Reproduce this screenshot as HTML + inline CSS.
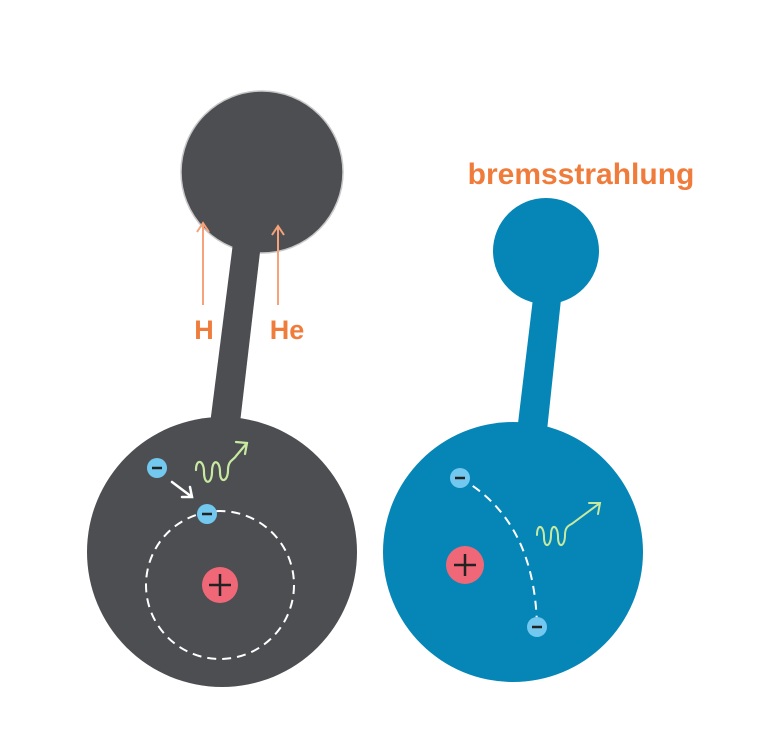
<!DOCTYPE html>
<html><head><meta charset="utf-8"><style>
html,body{margin:0;padding:0;background:#fff;}
svg{display:block;}
text{font-family:"Liberation Sans",sans-serif;}
</style></head><body>
<svg width="777" height="736" viewBox="0 0 777 736">
  <g>
    <circle cx="262" cy="172" r="81" fill="#4d4e52" stroke="#c8c8c8" stroke-width="1.5"/>
    <polygon points="208,440 238,440 262,235 234,235" fill="#4d4e52"/>
    <circle cx="222" cy="552" r="135" fill="#4d4e52"/>
    <circle cx="220" cy="585" r="74" fill="none" stroke="#fff" stroke-width="2" stroke-dasharray="9,6"/>
    <circle cx="220" cy="585" r="18" fill="#f06877"/>
    <path d="M209,585 h22 M220,574 v22" stroke="#222" stroke-width="2.5"/>
    <path d="M172,482 L192,497 M182,497 L192,497 L190,487" stroke="#fff" stroke-width="2.5" fill="none" stroke-linecap="round"/>
    <path d="M196,470 c0,-12 8,-10 8,2 c0,14 8,12 8,0 c0,-14 8,-12 8,0 c0,12 8,10 8,-2 c0,-10 6,-10 8,-14 L247,443 M236,442 L247,443 L245,454" stroke="#c8eaa0" stroke-width="2.2" fill="none" stroke-linecap="round"/>
    <circle cx="157" cy="468" r="10" fill="#72c8ee"/>
    <path d="M152,468 h10" stroke="#222" stroke-width="2.5"/>
    <circle cx="207" cy="514" r="10" fill="#72c8ee"/>
    <path d="M202,514 h10" stroke="#222" stroke-width="2.5"/>
    <path d="M203,305 V223 M197,232 L203,223 L209,232" stroke="#f6a27a" stroke-width="2" fill="none"/>
    <path d="M278,305 V226 M272,235 L278,226 L284,235" stroke="#f6a27a" stroke-width="2" fill="none"/>
    <text x="204" y="339" text-anchor="middle" font-size="27" font-weight="bold" fill="#f07c3c">H</text>
    <text x="287" y="339" text-anchor="middle" font-size="27" font-weight="bold" fill="#f07c3c">He</text>
  </g>
  <g>
    <circle cx="546" cy="251" r="53" fill="#0586b7"/>
    <polygon points="516,440 546,440 562,290 534,290" fill="#0586b7"/>
    <circle cx="513" cy="552" r="130" fill="#0586b7"/>
    <path d="M460,478 Q535,520 537,627" stroke="#fff" stroke-width="2" fill="none" stroke-dasharray="9,6"/>
    <circle cx="465" cy="565" r="19" fill="#f06877"/>
    <path d="M454,565 h22 M465,554 v22" stroke="#222" stroke-width="2.5"/>
    <path d="M537,535 c0,-12 7,-10 7,2 c0,12 7,10 7,-2 c0,-12 7,-10 7,2 c0,12 7,10 7,-2 c0,-10 6,-10 8,-12 L600,503 M589,503 L600,503 L598,514" stroke="#c8eaa0" stroke-width="2" fill="none" stroke-linecap="round"/>
    <circle cx="460" cy="478" r="10" fill="#72c8ee"/>
    <path d="M455,478 h10" stroke="#222" stroke-width="2.5"/>
    <circle cx="537" cy="627" r="10" fill="#72c8ee"/>
    <path d="M532,627 h10" stroke="#222" stroke-width="2.5"/>
    <text x="581" y="184" text-anchor="middle" font-size="30" font-weight="bold" fill="#f07c3c">bremsstrahlung</text>
  </g>
</svg>
</body></html>
